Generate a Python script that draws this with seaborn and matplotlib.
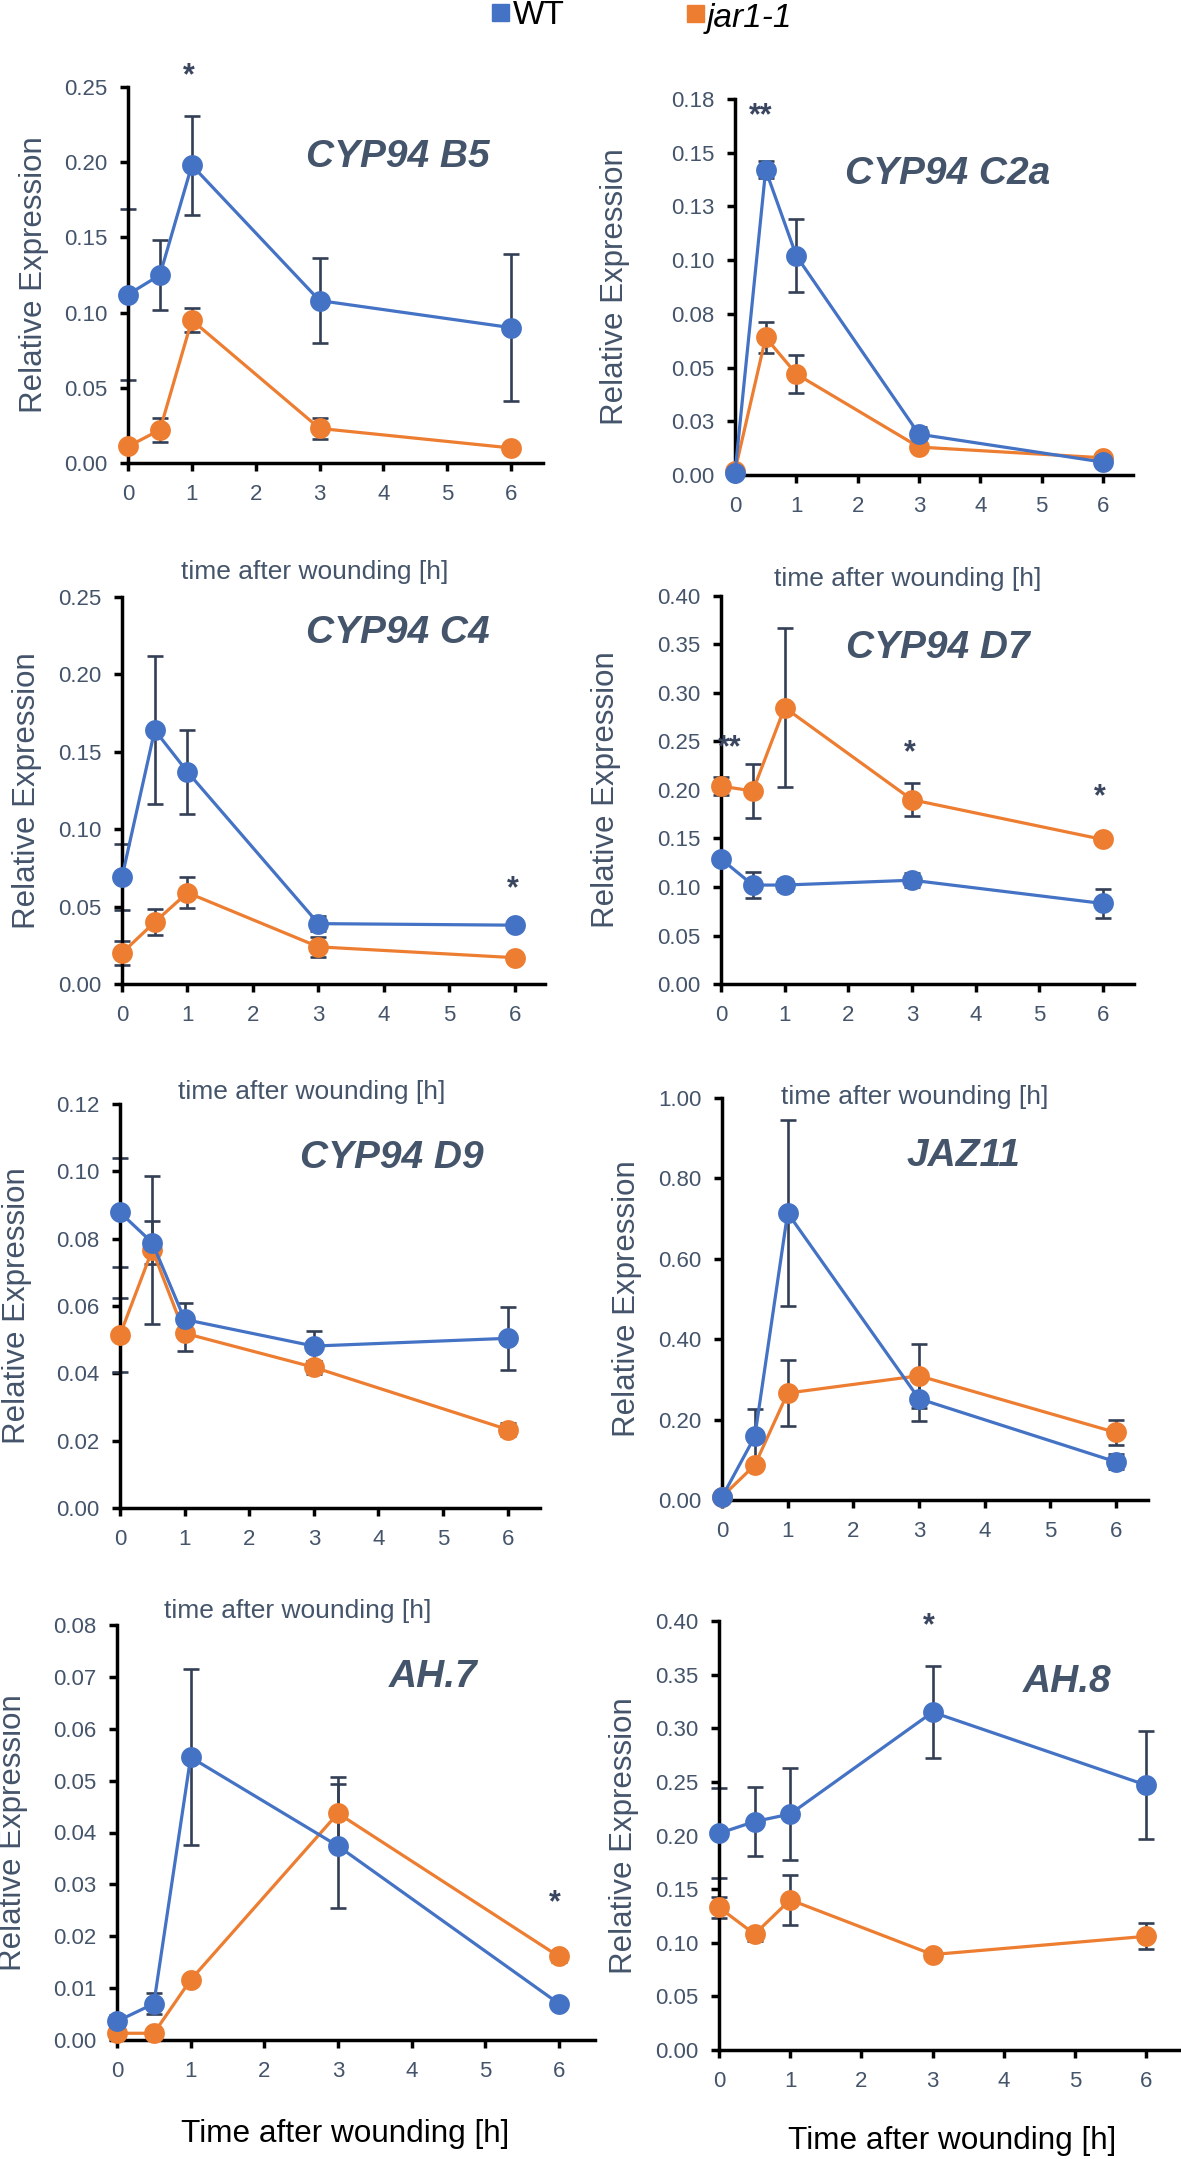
import matplotlib
matplotlib.use("Agg")
import matplotlib.pyplot as plt
import seaborn as sns
from matplotlib.patches import Rectangle

# ---- data ----
times = [0, 0.5, 1, 3, 6]
x_ticks = [0, 1, 2, 3, 4, 5, 6]

# CYP94 B5
b5_wt = [0.112, 0.125, 0.198, 0.108, 0.090]
b5_wt_err = [0.057, 0.023, 0.033, 0.028, 0.049]
b5_jar = [0.011, 0.022, 0.095, 0.023, 0.010]
b5_jar_err = [0.002, 0.008, 0.008, 0.007, 0.003]
b5_yticks = [0, 0.05, 0.10, 0.15, 0.20, 0.25]

# CYP94 C2a
c2a_wt = [0.001, 0.142, 0.102, 0.019, 0.006]
c2a_wt_err = [0.0005, 0.004, 0.017, 0.0035, 0.001]
c2a_jar = [0.002, 0.064, 0.047, 0.013, 0.008]
c2a_jar_err = [0.001, 0.007, 0.009, 0.002, 0.001]
c2a_yticks = [0, 0.025, 0.05, 0.075, 0.10, 0.125, 0.15, 0.175]
c2a_ylabels = ["0.00", "0.03", "0.05", "0.08", "0.10", "0.13", "0.15", "0.18"]

# CYP94 C4
c4_wt = [0.069, 0.164, 0.137, 0.039, 0.038]
c4_wt_err = [0.0215, 0.0476, 0.027, 0.005, 0.003]
c4_jar = [0.020, 0.040, 0.059, 0.024, 0.017]
c4_jar_err = [0.008, 0.0085, 0.010, 0.0065, 0.002]
c4_yticks = [0, 0.05, 0.10, 0.15, 0.20, 0.25]

# CYP94 D7
d7_wt = [0.129, 0.102, 0.102, 0.107, 0.083]
d7_wt_err = [0.004, 0.013, 0.006, 0.007, 0.0145]
d7_jar = [0.204, 0.199, 0.285, 0.190, 0.149]
d7_jar_err = [0.009, 0.028, 0.082, 0.017, 0.005]
d7_yticks = [0, 0.05, 0.10, 0.15, 0.20, 0.25, 0.30, 0.35, 0.40]

# CYP94 D9
d9_wt = [0.0878, 0.0788, 0.0560, 0.0481, 0.0504]
d9_wt_err = [0.0162, 0.0063, 0.005, 0.0045, 0.0094]
d9_jar = [0.0514, 0.0767, 0.0519, 0.0418, 0.0233]
d9_jar_err = [0.011, 0.022, 0.0053, 0.002, 0.002]
d9_yticks = [0, 0.02, 0.04, 0.06, 0.08, 0.10, 0.12]

# JAZ11
jaz_wt = [0.007, 0.158, 0.714, 0.252, 0.095]
jaz_wt_err = [0.003, 0.068, 0.232, 0.056, 0.019]
jaz_jar = [0.008, 0.087, 0.266, 0.309, 0.168]
jaz_jar_err = [0.003, 0.010, 0.082, 0.079, 0.031]
jaz_yticks = [0, 0.2, 0.4, 0.6, 0.8, 1.0]

# AH.7
ah7_wt = [0.0036, 0.0070, 0.0545, 0.0374, 0.0070]
ah7_wt_err = [0.0013, 0.0020, 0.0170, 0.0119, 0.0005]
ah7_jar = [0.0013, 0.0013, 0.0116, 0.0437, 0.0161]
ah7_jar_err = [0.0003, 0.0003, 0.0005, 0.0070, 0.0010]
ah7_yticks = [0, 0.01, 0.02, 0.03, 0.04, 0.05, 0.06, 0.07, 0.08]

# AH.8
ah8_wt = [0.202, 0.213, 0.220, 0.315, 0.247]
ah8_wt_err = [0.042, 0.032, 0.043, 0.043, 0.050]
ah8_jar = [0.133, 0.108, 0.140, 0.089, 0.106]
ah8_jar_err = [0.010, 0.006, 0.023, 0.004, 0.012]
ah8_yticks = [0, 0.05, 0.10, 0.15, 0.20, 0.25, 0.30, 0.35, 0.40]

# significance marks (x, y, text)
b5_stars = [(0.96, 0.257, "*")]
c2a_stars = [(0.42, 0.167, "**")]
c4_stars = [(5.97, 0.061, "*")]
d7_stars = [(0.14, 0.243, "**"), (2.96, 0.238, "*"), (5.95, 0.193, "*")]
ah7_stars = [(5.95, 0.0264, "*")]
ah8_stars = [(2.95, 0.395, "*")]

# ---- style ----
sns.set_theme(style="ticks")
plt.rcParams["font.family"] = ["Liberation Sans", "DejaVu Sans"]

blue = "#4472C4"
orange = "#ED7D31"
err_col = "#333F55"
slate = "#44546A"

W, H = 1181, 2159
fig = plt.figure(figsize=(W / 100, H / 100), dpi=100)
fig.patch.set_facecolor("white")


def fx(px):
    return px / W


def fy(py):
    return 1 - py / H


def panel(box, xmax, wt, wt_err, jar, jar_err, yticks, gene, gene_xy, ylab_x,
          stars=(), ylabels=None):
    l, t, r, b = box
    ax = fig.add_axes([fx(l), fy(b), (r - l) / W, (b - t) / H])
    ax.set_facecolor("white")

    for y, e in [(jar, jar_err), (wt, wt_err)]:
        ax.errorbar(times, y, yerr=e, fmt="none", ecolor=err_col,
                    elinewidth=1.9, capsize=6, capthick=1.9, zorder=2,
                    clip_on=False)
    sns.lineplot(x=times, y=jar, ax=ax, color=orange, marker="o",
                 markersize=15, markeredgewidth=0, linewidth=2.3,
                 clip_on=False, zorder=3)
    sns.lineplot(x=times, y=wt, ax=ax, color=blue, marker="o",
                 markersize=15, markeredgewidth=0, linewidth=2.3,
                 clip_on=False, zorder=4)

    ax.set_xlim(0, xmax)
    ax.set_ylim(0, yticks[-1])
    ax.set_xticks(x_ticks)
    ax.set_yticks(yticks)
    if ylabels is None:
        ylabels = [f"{v:.2f}" for v in yticks]
    ax.set_yticklabels(ylabels)
    ax.set_xlabel("")
    ax.set_ylabel("")
    for s in ["top", "right"]:
        ax.spines[s].set_visible(False)
    for s in ["left", "bottom"]:
        ax.spines[s].set_linewidth(2.5)
        ax.spines[s].set_color("black")
    ax.tick_params(axis="both", direction="out", length=6, width=2.5,
                   color="black", labelsize=16, labelcolor=slate, pad=9)

    for sx, sy, st in stars:
        ax.text(sx, sy, st, ha="center", va="center", fontsize=22,
                fontweight="bold", color="#3A4660", clip_on=False)

    fig.text(fx(gene_xy[0]), fy(gene_xy[1]), gene, ha="center", va="center",
             fontsize=28, fontweight="bold", fontstyle="italic", color=slate)
    fig.text(fx(ylab_x), fy((t + b) / 2), "Relative Expression", rotation=90,
             ha="center", va="center", fontsize=22.5, color=slate)
    return ax


panel((128, 87, 543, 463), 6.5, b5_wt, b5_wt_err, b5_jar, b5_jar_err,
      b5_yticks, "CYP94 B5", (398, 157), 34, b5_stars)
panel((735, 99, 1133, 475), 6.49, c2a_wt, c2a_wt_err, c2a_jar, c2a_jar_err,
      c2a_yticks, "CYP94 C2a", (948, 174), 615, c2a_stars, c2a_ylabels)
panel((122, 597, 545, 984), 6.46, c4_wt, c4_wt_err, c4_jar, c4_jar_err,
      c4_yticks, "CYP94 C4", (398, 633), 27, c4_stars)
panel((721, 596, 1134, 984), 6.49, d7_wt, d7_wt_err, d7_jar, d7_jar_err,
      d7_yticks, "CYP94 D7", (938, 648), 606, d7_stars)
panel((120, 1104, 540, 1508), 6.5, d9_wt, d9_wt_err, d9_jar, d9_jar_err,
      d9_yticks, "CYP94 D9", (392, 1158), 17)
panel((722, 1098, 1148, 1500), 6.49, jaz_wt, jaz_wt_err, jaz_jar, jaz_jar_err,
      jaz_yticks, "JAZ11", (963, 1156), 627)
panel((117, 1625, 595, 2040), 6.49, ah7_wt, ah7_wt_err, ah7_jar, ah7_jar_err,
      ah7_yticks, "AH.7", (433, 1677), 13, ah7_stars)
panel((719, 1621, 1181, 2050), 6.49, ah8_wt, ah8_wt_err, ah8_jar, ah8_jar_err,
      ah8_yticks, "AH.8", (1067, 1682), 624, ah8_stars)

# small axis titles between the rows
for px, py in [(315, 572), (908, 579), (312, 1092), (915, 1097), (298, 1611)]:
    fig.text(fx(px), fy(py), "time after wounding [h]", ha="center",
             va="center", fontsize=19, color=slate)

# bottom axis titles
fig.text(fx(345), fy(2134), "Time after wounding [h]", ha="center",
         va="center", fontsize=22.7, color="black")
fig.text(fx(952), fy(2141), "Time after wounding [h]", ha="center",
         va="center", fontsize=22.7, color="black")

# legend at the top
fig.add_artist(Rectangle((fx(492), fy(21)), 17 / W, 17 / H, color=blue,
                         transform=fig.transFigure))
fig.text(fx(513), fy(15), "WT", ha="left", va="center", fontsize=24,
         color="black")
fig.add_artist(Rectangle((fx(687), fy(22)), 17 / W, 17 / H, color=orange,
                         transform=fig.transFigure))
fig.text(fx(707), fy(18), "jar1-1", ha="left", va="center", fontsize=24,
         fontstyle="italic", color="black")

fig.savefig("out.png", dpi=100, facecolor="white")
